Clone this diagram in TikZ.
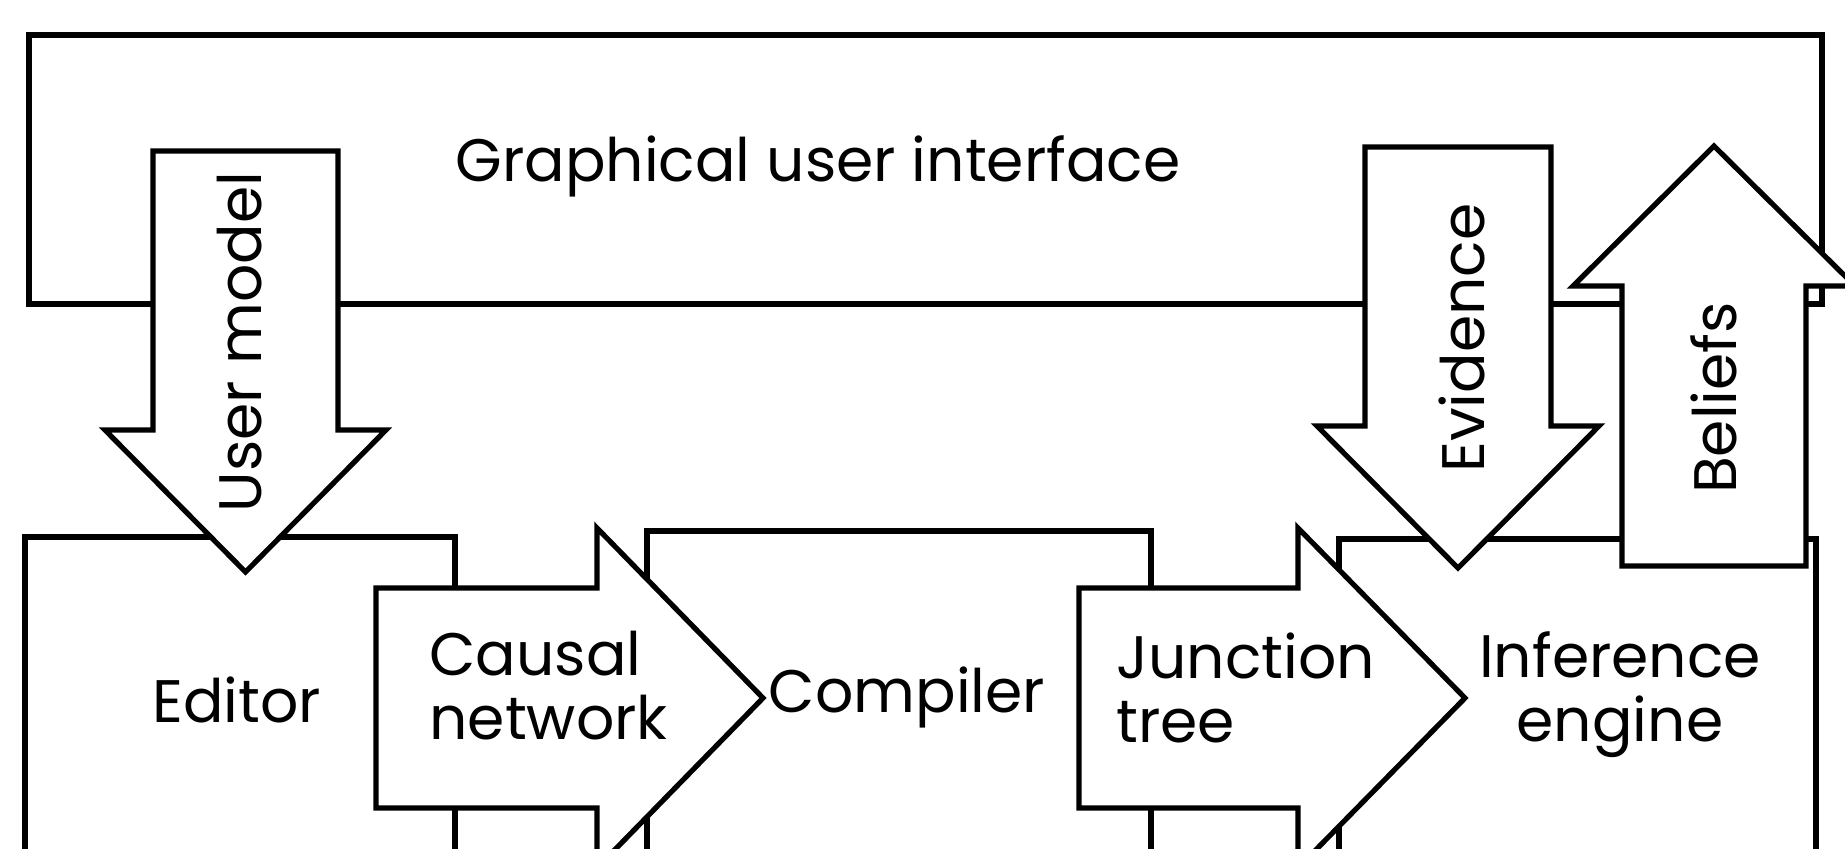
\documentclass[tikz,border=0pt]{standalone}
\usepackage{fontspec}
\setmainfont{Poppins}
\begin{document}
\begin{tikzpicture}[x=0.5pt,y=-0.5pt,
  shp/.style={draw=black, fill=white, line width=2.6pt, line join=miter},
  boxline/.style={draw=black, line width=2.6pt, line join=miter},
  lbl/.style={inner sep=0pt, font=\fontsize{30}{32}\selectfont}]
\useasboundingbox (0,0) rectangle (1845,848);
\clip (0,0) rectangle (1845,848);
\fill[white] (0,0) rectangle (1845,848);
% boxes
\draw[boxline] (29,35) rectangle (1822,304);
\draw[boxline] (25,537) rectangle (455,900);
\draw[boxline] (647,531) rectangle (1151,900);
\draw[boxline] (1339,539) rectangle (1816,900);
% User model arrow (down)
\draw[shp] (153,151) -- (338,151) -- (338,430) -- (386,430) -- (245.5,572) -- (105,430) -- (153,430) -- cycle;
% Evidence arrow (down)
\draw[shp] (1365,147) -- (1551,147) -- (1551,426) -- (1599,426) -- (1458,568) -- (1317,426) -- (1365,426) -- cycle;
% Beliefs arrow (up)
\draw[shp] (1622,566) -- (1806,566) -- (1806,286) -- (1855,286) -- (1714,146) -- (1573,286) -- (1622,286) -- cycle;
% Causal network arrow (right)
\draw[shp] (376,588) -- (597,588) -- (597,528) -- (763,698) -- (597,868) -- (597,808) -- (376,808) -- cycle;
% Junction tree arrow (right)
\draw[shp] (1079,588) -- (1298,588) -- (1298,528) -- (1465,698) -- (1298,868) -- (1298,808) -- (1079,808) -- cycle;
% labels
\node[lbl, anchor=base] (gui) at (818,181) {Graphical user interface};
\node[lbl, rotate=90] (usermodel) at (240,342) {User model};
\node[lbl, rotate=90] (evidence) at (1462,338) {Evidence};
\node[lbl, rotate=90] (beliefs) at (1714,398) {Beliefs};
\node[lbl, anchor=base] (editor) at (237,722) {Editor};
\node[lbl, anchor=base west] (causal) at (429,675) {\begin{tabular}[t]{@{}l@{}}Causal\\network\end{tabular}};
\node[lbl, anchor=base] (compiler) at (907,712) {Compiler};
\node[lbl, anchor=base west] (junction) at (1116,678) {\begin{tabular}[t]{@{}l@{}}Junction\\tree\end{tabular}};
\node[lbl, anchor=base] (inference) at (1620,677) {\begin{tabular}[t]{@{}c@{}}Inference\\engine\end{tabular}};
\end{tikzpicture}
\end{document}
